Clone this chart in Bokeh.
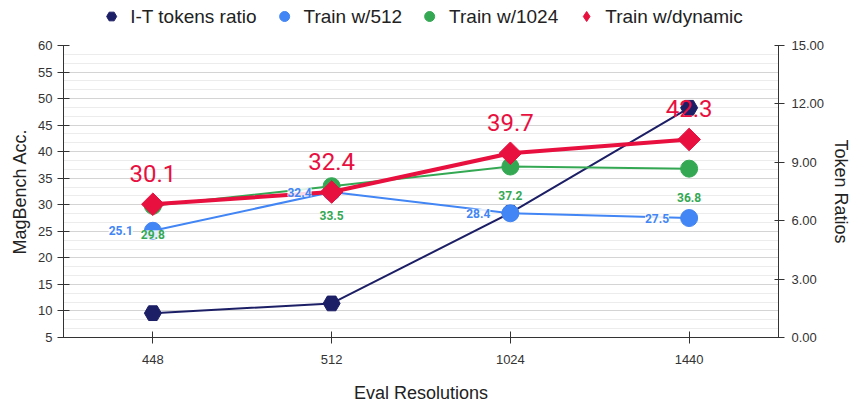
import numpy as np
from bokeh.plotting import figure
from bokeh.layouts import column
from bokeh.models import (FactorRange, Range1d, LinearAxis, SingleIntervalTicker,
                          FixedTicker, NumeralTickFormatter, Legend, LegendItem,
                          LabelSet, ColumnDataSource)
from bokeh.core.properties import value
from bokeh.embed import file_html
from bokeh.resources import INLINE

# ---- data ----
resolutions = ["448", "512", "1024", "1440"]
token_ratio = [1.25, 1.75, 6.4, 11.8]
train_512 = [25.1, 32.4, 28.4, 27.5]
train_1024 = [29.8, 33.5, 37.2, 36.8]
train_dynamic = [30.1, 32.4, 39.7, 42.3]
left_ticks_interval = 5
right_ticks = [0, 3, 6, 9, 12, 15]
series_names = ["I-T tokens ratio", "Train w/512", "Train w/1024", "Train w/dynamic"]

NAVY = "#1c1f66"
BLUE = "#4285f4"
GREEN = "#34a853"
RED = "#e8103f"
FONT = "Liberation Sans"
LBL_FONT = "Roboto"

p = figure(width=854, height=376,
           x_range=FactorRange(factors=resolutions, range_padding=0),
           y_range=Range1d(5, 60),
           output_backend="svg", toolbar_location=None,
           min_border_left=63, min_border_right=71,
           min_border_top=13, min_border_bottom=71)
p.outline_line_color = None

# left axis
ya = p.yaxis[0]
ya.ticker = SingleIntervalTicker(interval=left_ticks_interval, num_minor_ticks=3)
ya.axis_label = "MagBench Acc."
ya.axis_label_text_font = FONT
ya.axis_label_text_font_size = "18px"
ya.axis_label_text_font_style = "normal"
ya.axis_label_text_color = "#222222"
ya.major_label_text_font = FONT
ya.major_label_text_font_size = "13px"
ya.major_label_text_color = "#333333"
ya.axis_line_color = "#333333"
ya.major_tick_line_color = "#333333"
ya.major_tick_in = 6
ya.major_tick_out = 6
ya.minor_tick_line_color = None

# right axis
p.extra_y_ranges = {"ratio": Range1d(0, 15)}
ra = LinearAxis(y_range_name="ratio", ticker=FixedTicker(ticks=right_ticks),
                formatter=NumeralTickFormatter(format="0.00"),
                axis_label="Token Ratios")
ra.axis_label_text_font = FONT
ra.axis_label_text_font_size = "18px"
ra.axis_label_text_font_style = "normal"
ra.axis_label_text_color = "#222222"
ra.axis_label_standoff = 4
ra.major_label_standoff = 7
ra.major_label_text_font = FONT
ra.major_label_text_font_size = "13px"
ra.major_label_text_color = "#333333"
ra.axis_line_color = "#333333"
ra.major_tick_line_color = "#333333"
ra.major_tick_in = 4
ra.major_tick_out = 6
ra.minor_tick_line_color = None
p.add_layout(ra, "right")

# x axis
xa = p.xaxis[0]
xa.axis_label = "Eval Resolutions"
xa.axis_label_text_font = FONT
xa.axis_label_text_font_size = "18px"
xa.axis_label_text_font_style = "normal"
xa.axis_label_text_color = "#222222"
xa.axis_label_standoff = 16
xa.major_label_text_font = FONT
xa.major_label_text_font_size = "13px"
xa.major_label_text_color = "#333333"
xa.major_label_standoff = 11
xa.axis_line_color = "#333333"
xa.major_tick_line_color = "#333333"
xa.major_tick_in = 6
xa.major_tick_out = 6

# grid
p.xgrid.visible = False
p.ygrid.grid_line_color = "#d4d4d4"
p.ygrid.minor_grid_line_color = "#ececec"

# ---- series ----
p.line(resolutions, token_ratio, y_range_name="ratio", color=NAVY, line_width=2)
p.scatter(resolutions, token_ratio, y_range_name="ratio", marker="hex",
          size=17, color=NAVY)

p.line(resolutions, train_512, color=BLUE, line_width=2)
p.scatter(resolutions, train_512, marker="circle", size=17, color=BLUE)

p.line(resolutions, train_1024, color=GREEN, line_width=2)
p.scatter(resolutions, train_1024, marker="circle", size=17, color=GREEN)

p.line(resolutions, train_dynamic, color=RED, line_width=4)
p.scatter(resolutions, train_dynamic, marker="square", angle=np.pi / 4,
          size=16, color=RED)

# ---- data labels ----
src512 = ColumnDataSource(dict(x=resolutions, y=train_512,
                               t=["%.1f" % v for v in train_512]))
src1024 = ColumnDataSource(dict(x=resolutions, y=train_1024,
                                t=["%.1f" % v for v in train_1024]))
p.add_layout(LabelSet(x="x", y="y", text="t", source=src512,
                      x_offset=-20, text_align="right", text_baseline="middle",
                      text_font=value(LBL_FONT), text_font_size="12px",
                      text_font_style="bold", text_color=BLUE,
                      background_fill_color="white", background_fill_alpha=0.85))
p.add_layout(LabelSet(x="x", y="y", text="t", source=src1024,
                      y_offset=-29, text_align="center", text_baseline="middle",
                      text_font=value(LBL_FONT), text_font_size="12px",
                      text_font_style="bold", text_color=GREEN,
                      background_fill_color="white", background_fill_alpha=0.85))
p.text(resolutions, train_dynamic, text=["%.1f" % v for v in train_dynamic],
       y_offset=-31, text_align="center", text_baseline="middle",
       text_font=value(LBL_FONT), text_font_size="24px",
       text_color=RED)

# ---- legend strip (hidden swatch carriers, legend only) ----
lf = figure(width=854, height=32, x_range=FactorRange(factors=resolutions),
            y_range=Range1d(0, 60), output_backend="svg", toolbar_location=None,
            x_axis_location=None, y_axis_location=None,
            min_border_left=0, min_border_right=0, min_border_top=0, min_border_bottom=0)
lf.outline_line_color = None
lf.xgrid.visible = False
lf.ygrid.visible = False
ln = lf.scatter(resolutions, token_ratio, marker="hex", color=NAVY, visible=False)
lb = lf.scatter(resolutions, train_512, marker="circle", color=BLUE, visible=False)
lg = lf.scatter(resolutions, train_1024, marker="circle", color=GREEN, visible=False)
lr = lf.scatter(resolutions, train_dynamic, marker="diamond", color=RED, visible=False)
legend = Legend(items=[
    LegendItem(label=series_names[0], renderers=[ln]),
    LegendItem(label=series_names[1], renderers=[lb]),
    LegendItem(label=series_names[2], renderers=[lg]),
    LegendItem(label=series_names[3], renderers=[lr]),
], orientation="horizontal", location="center",
    label_text_font=FONT, label_text_font_size="19px", label_text_color="#222222",
    glyph_width=25, glyph_height=25, label_standoff=7, spacing=15,
    padding=0, margin=0, border_line_color=None, background_fill_alpha=0)
lf.add_layout(legend)

layout = column(lf, p, spacing=0)
open("out.html", "w").write(file_html(layout, INLINE))
